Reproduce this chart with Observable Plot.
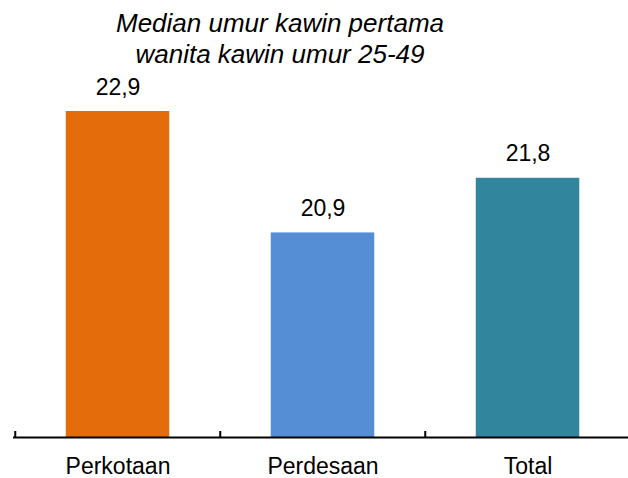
<!DOCTYPE html>
<html>
<head>
<meta charset="utf-8">
<script src="https://cdn.jsdelivr.net/npm/d3@7"></script>
<script src="https://cdn.jsdelivr.net/npm/@observablehq/plot@0.6"></script>
<style>
  body { margin: 0; background: #fff; }
  #wrap { position: relative; width: 628px; height: 478px; }
  #title { position: absolute; top: 8px; left: 0; width: 560px; text-align: center;
           font: italic 26px "Liberation Sans", Arial, sans-serif; line-height: 31px; color: #000; }
</style>
</head>
<body>
<div id="wrap">
  <div id="chart"></div>
  <div id="title">Median umur kawin pertama<br>wanita kawin umur 25-49</div>
</div>
<script>
const categories = ["Perkotaan", "Perdesaan", "Total"];
const values = [22.9, 20.9, 21.8];
const valueLabels = ["22,9", "20,9", "21,8"];
const colors = ["#E46C0A", "#558ED5", "#31859C"];
const yMin = 17.53;

const data = categories.map((c, i) => ({category: c, value: values[i], label: valueLabels[i]}));

const chart = Plot.plot({
  width: 628,
  height: 478,
  marginLeft: 13,
  marginRight: 0,
  marginTop: 0,
  marginBottom: 0,
  style: {fontFamily: '"Liberation Sans", Arial, sans-serif', background: "white"},
  x: {domain: categories, range: [14, 630.5], padding: 0, axis: null},
  y: {domain: [yMin, 22.9], range: [437, 111], axis: null},
  color: {domain: categories, range: colors},
  marks: [
    Plot.barY(data, {x: "category", y1: yMin, y2: "value", fill: "category", insetLeft: 50.75, insetRight: 50.75}),
    Plot.ruleY([yMin], {stroke: "black", strokeWidth: 2}),
    Plot.ruleX(categories, {x: d => d, y1: yMin, y2: yMin, dx: -102.75, insetTop: -6, stroke: "black", strokeWidth: 2}),
    Plot.text(data, {x: "category", y: "value", text: "label", lineAnchor: "bottom", dy: -17, fontSize: 23, fill: "black"}),
    Plot.text(categories, {x: d => d, y: yMin, text: d => d, lineAnchor: "top", dy: 20, fontSize: 23, fill: "black"})
  ]
});
document.getElementById("chart").appendChild(chart);
</script>
</body>
</html>
